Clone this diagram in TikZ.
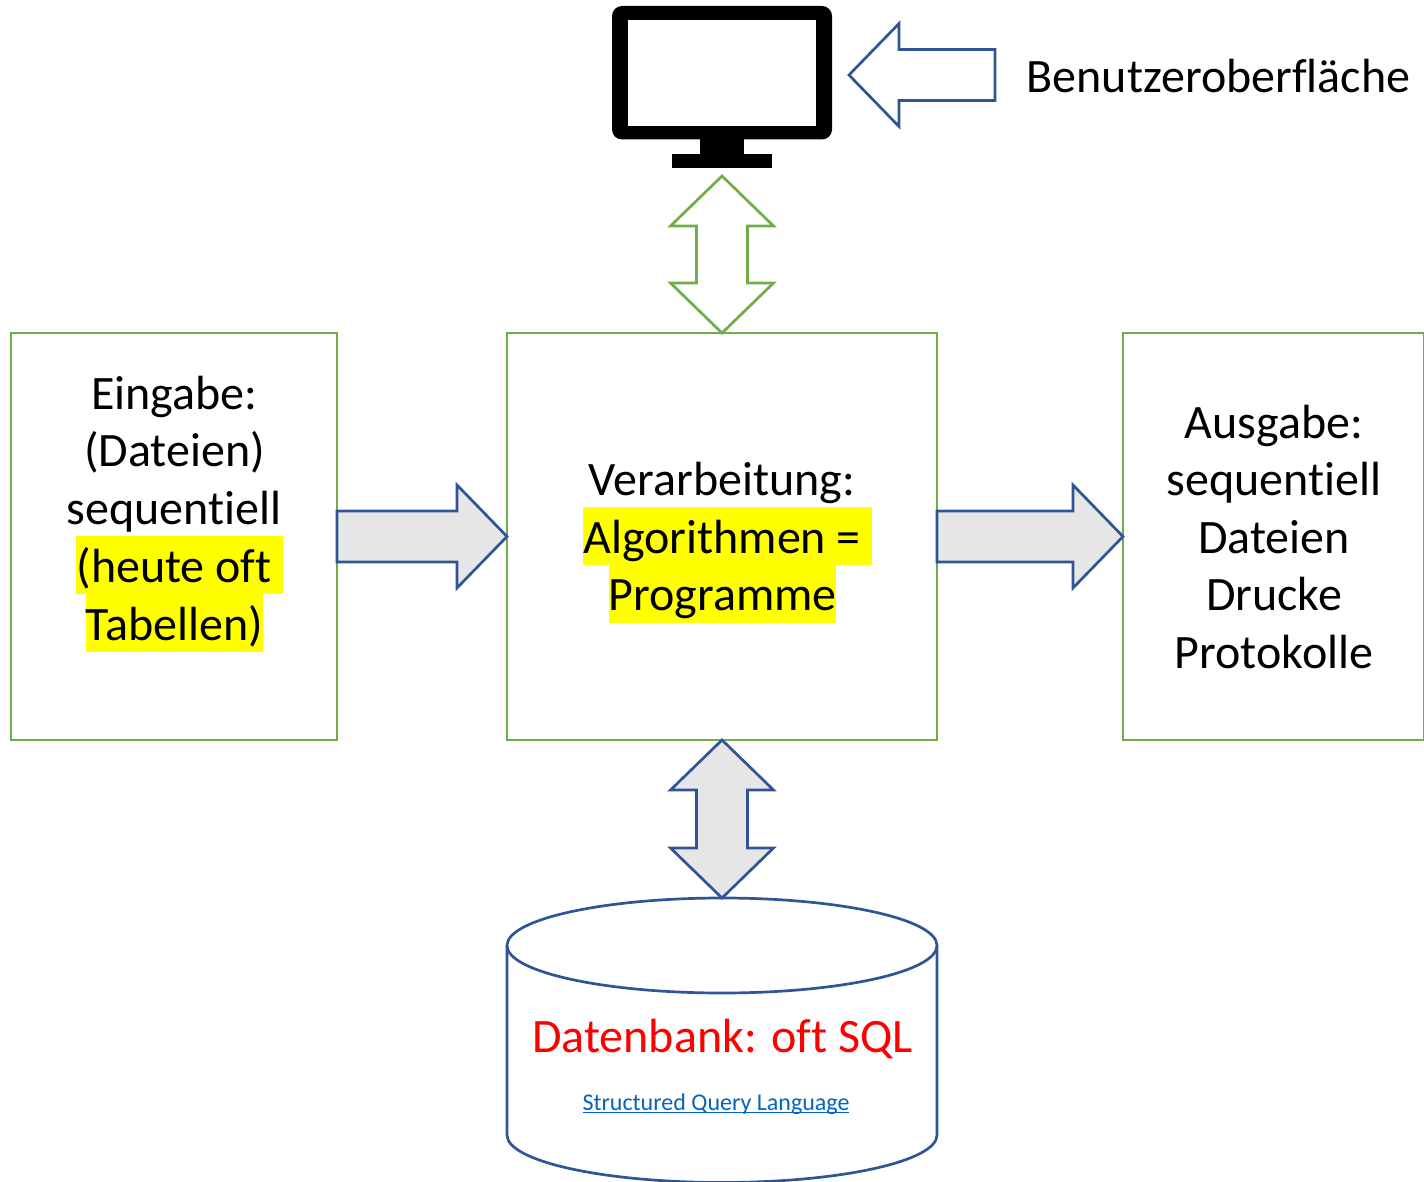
\documentclass[tikz,border=0pt]{standalone}
\usepackage{fontspec}
\setmainfont{Carlito}[Ligatures={NoCommon}]
\usetikzlibrary{calc}
\definecolor{boxgreen}{HTML}{70AD47}
\definecolor{arrowblue}{HTML}{2F5597}
\definecolor{arrowgrey}{HTML}{E6E6E6}
\definecolor{linkblue}{HTML}{0563C1}
\definecolor{marker}{RGB}{255,255,0}
\tikzset{
  procbox/.style={draw=boxgreen,line width=2.7pt,fill=white,inner sep=0pt,outer sep=0pt},
  line/.style={anchor=base,inner sep=0pt,font=\fontsize{48}{58}\selectfont,text=black},
  marked/.style={line,fill=marker,text height=46.5pt,text depth=11.5pt},
  bluearrow/.style={draw=arrowblue,line width=2.7pt,fill=arrowgrey,miter limit=10},
  hollowarrow/.style={draw=arrowblue,line width=2.7pt,fill=white,miter limit=10},
  greenarrow/.style={draw=boxgreen,line width=2.7pt,fill=white,miter limit=10},
  dbshape/.style={draw=arrowblue,line width=2.7pt,fill=white},
  monitorpart/.style={fill=black}
}
\newsavebox{\linkbox}
\newcommand{\linkline}[1]{\sbox{\linkbox}{#1}\usebox{\linkbox}\llap{\rule[-3.4pt]{\wd\linkbox}{1.6pt}}}
% single block arrow: style, from, to
\newcommand{\singlearrow}[3]{%
  \coordinate (H) at ($(#3)!50pt!(#2)$);
  \path[#1] ($(#2)!25.5pt!90:(#3)$) -- ($(H)!25.5pt!90:(#3)$) -- ($(H)!51.5pt!90:(#3)$)
    -- (#3) -- ($(H)!51.5pt!-90:(#3)$) -- ($(H)!25.5pt!-90:(#3)$) -- ($(#2)!25.5pt!-90:(#3)$) -- cycle;
}
% double block arrow: style, end, end
\newcommand{\doublearrow}[3]{%
  \coordinate (H) at ($(#3)!50pt!(#2)$);
  \coordinate (G) at ($(#2)!50pt!(#3)$);
  \path[#1] (#2) -- ($(G)!51.5pt!90:(#3)$) -- ($(G)!25.5pt!90:(#3)$) -- ($(H)!25.5pt!90:(#3)$)
    -- ($(H)!51.5pt!90:(#3)$) -- (#3) -- ($(H)!51.5pt!-90:(#3)$) -- ($(H)!25.5pt!-90:(#3)$)
    -- ($(G)!25.5pt!-90:(#3)$) -- ($(G)!51.5pt!-90:(#3)$) -- cycle;
}
\begin{document}
\begin{tikzpicture}[x=1pt,y=-1pt]
\useasboundingbox (0,0) rectangle (1424,1182);
% boxes
\node[procbox,minimum width=326pt,minimum height=407pt] (eingabe) at (174,536.5) {};
\node[procbox,minimum width=430pt,minimum height=407pt] (verarbeitung) at (722,536.5) {};
\node[procbox,minimum width=301pt,minimum height=407pt] (ausgabe) at (1273.5,536.5) {};
% monitor
\fill[monitorpart,rounded corners=10pt] (612,6) rectangle (832,139.5);
\fill[white] (628,20) rectangle (816,126);
\fill[monitorpart] (700,139) rectangle (744,155);
\fill[monitorpart] (672,154) rectangle (772,168);
\coordinate (monitorfoot) at (722,176);
% database
\coordinate (dbtop) at (722,898);
\path[dbshape] (507,945.5) -- (507,1135) arc[x radius=215,y radius=47.5,start angle=180,end angle=0]
  -- (937,945.5);
\draw[dbshape] (722,945.5) ellipse[x radius=215,y radius=47.5];
% arrows
\singlearrow{bluearrow}{eingabe.east}{verarbeitung.west}
\singlearrow{bluearrow}{verarbeitung.east}{ausgabe.west}
\doublearrow{greenarrow}{monitorfoot}{verarbeitung.north}
\doublearrow{bluearrow}{verarbeitung.south}{dbtop}
\coordinate (uitail) at (995,75);
\coordinate (uitip) at (849,75);
\singlearrow{hollowarrow}{uitail}{uitip}
% texts
\node[line,anchor=base west] (ui) at (1026.5,93) {Benutzeroberfläche};
\node[line] (e1) at (174.5,409) {Eingabe:};
\node[line] (e2) at (174.5,466.5) {(Dateien)};
\node[line] (e3) at (174,524) {sequentiell};
\node[marked] (e4) at (179.5,582) {(heute oft\hspace*{0.226em}};
\node[marked] (e5) at (174.5,640) {Tabellen)};
\node[line] (v1) at (722,495) {Verarbeitung:};
\node[marked] (v2) at (727.5,553) {Algorithmen =\hspace*{0.226em}};
\node[marked,text depth=12.5pt] (v3) at (722.5,610.5) {Programme};
\node[line] (a1) at (1274,438) {Ausgabe:};
\node[line] (a2) at (1274,495) {sequentiell};
\node[line] (a3) at (1274,553) {Dateien};
\node[line] (a4) at (1274,610.5) {Drucke};
\node[line] (a5) at (1274,668) {Protokolle};
\node[line,text=red] (db1) at (722.5,1052) {Datenbank: oft SQL};
\node[anchor=base,inner sep=0pt,font=\fontsize{24}{29}\selectfont,text=linkblue] (db2) at (716,1110) {\linkline{Structured Query Language}};
\end{tikzpicture}
\end{document}
